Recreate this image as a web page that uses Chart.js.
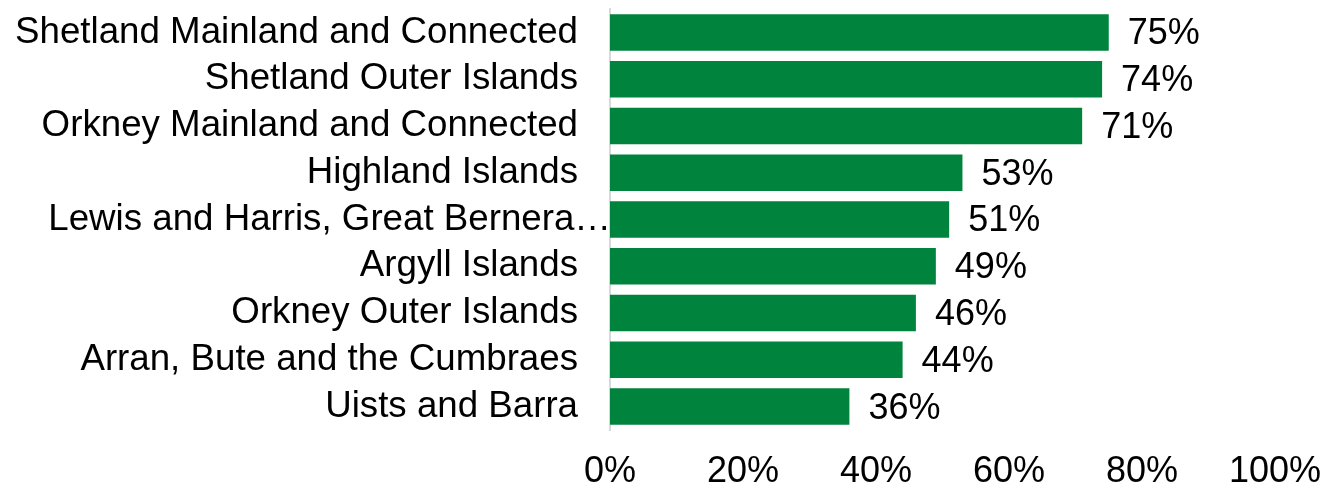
<!DOCTYPE html>
<html>
<head>
<meta charset="utf-8">
<script src="https://cdn.jsdelivr.net/npm/chart.js@4/dist/chart.umd.min.js"></script>
<style>
  html, body { margin: 0; padding: 0; background: #fff; }
  #wrap { width: 1344px; height: 498px; }
</style>
</head>
<body>
<div id="wrap"><canvas id="chart"></canvas></div>
<script>
// island groups, top to bottom
const areas = [
    'Shetland Mainland and Connected',
    'Shetland Outer Islands',
    'Orkney Mainland and Connected',
    'Highland Islands',
    'Lewis and Harris, Great Bernera\u2026',
    'Argyll Islands',
    'Orkney Outer Islands',
    'Arran, Bute and the Cumbraes',
    'Uists and Barra'
];
const shares = [75, 74, 71, 53, 51, 49, 46, 44, 36];
const xTicks = [0, 20, 40, 60, 80, 100];

const FONT = 'Liberation Sans, Arial, sans-serif';
const SIZE = 36;
const CAT_SIZE = 36.7;
// this label runs right up to the axis in the original
const LONG = 4;

// value labels past the bar ends, plus the one long category label
const barLabels = {
    id: 'barLabels',
    afterDatasetsDraw(chart) {
        const ctx = chart.ctx;
        const meta = chart.getDatasetMeta(0);
        ctx.save();
        ctx.fillStyle = '#000';
        ctx.textBaseline = 'middle';
        ctx.font = SIZE + 'px ' + FONT;
        ctx.textAlign = 'left';
        meta.data.forEach((bar, i) => {
            ctx.fillText(shares[i] + '%', bar.x + 19, bar.y + 2);
        });
        ctx.font = CAT_SIZE + 'px ' + FONT;
        ctx.textAlign = 'right';
        const yl = chart.scales.y.getPixelForValue(LONG);
        ctx.fillText(areas[LONG], chart.chartArea.left + 1, yl);
        ctx.restore();
    }
};

new Chart(document.getElementById('chart'), {
    type: 'bar',
    data: {
        labels: areas,
        datasets: [{
            data: shares,
            backgroundColor: '#00843D',
            borderWidth: 0,
            barPercentage: 0.78,
            categoryPercentage: 1.0
        }]
    },
    options: {
        indexAxis: 'y',
        responsive: true,
        maintainAspectRatio: false,
        animation: false,
        layout: { padding: { top: 9, right: 69, bottom: 0, left: 0 } },
        plugins: {
            legend: { display: false },
            tooltip: { enabled: false }
        },
        scales: {
            x: {
                min: 0,
                max: 100,
                afterBuildTicks: (scale) => {
                    scale.ticks = xTicks.map(v => ({ value: v }));
                },
                afterFit: (scale) => {
                    scale.height = 68;
                    scale.paddingLeft = 0;
                    scale.paddingRight = 0;
                },
                grid: { display: false },
                border: { display: false },
                ticks: {
                    padding: 12,
                    autoSkip: false,
                    maxRotation: 0,
                    minRotation: 0,
                    color: '#000',
                    font: { family: FONT, size: SIZE },
                    callback: (v) => v + '%'
                }
            },
            y: {
                afterFit: (scale) => {
                    scale.width = 610;
                    scale.paddingTop = 0;
                    scale.paddingBottom = 0;
                },
                grid: { display: false },
                border: { display: true, color: '#d9d9d9', width: 2 },
                ticks: {
                    padding: 24,
                    autoSkip: false,
                    color: (c) => c.index === LONG ? 'rgba(0,0,0,0)' : '#000',
                    font: { family: FONT, size: CAT_SIZE }
                }
            }
        }
    },
    plugins: [barLabels]
});
</script>
</body>
</html>
